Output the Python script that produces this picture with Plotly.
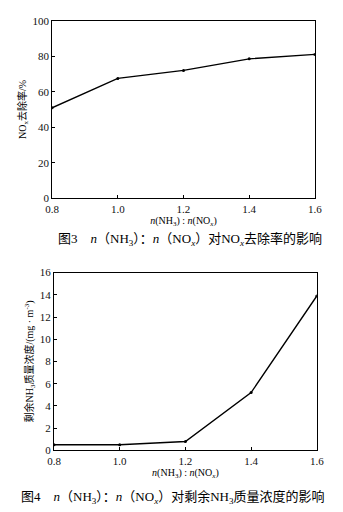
import plotly.graph_objects as go

# Molar ratio n(NH3):n(NOx)
ratio = [0.8, 1.0, 1.2, 1.4, 1.6]
# NOx removal efficiency, %
nox_removal = [51, 67.5, 72, 78.5, 81]
# Residual NH3 mass concentration, mg/m3
nh3_residual = [0.5, 0.5, 0.8, 5.2, 13.9]

W, H = 343, 512
SERIF = "Liberation Serif, Times New Roman, serif"
CJK = "Liberation Serif, Noto Sans CJK SC, serif"


def px_x(x):
    return x / W


def px_y(y):
    return 1 - y / H


fig = go.Figure()

line = dict(color="black", width=1.4)
marker = dict(color="black", size=3)

fig.add_trace(go.Scatter(x=ratio, y=nox_removal, mode="lines+markers",
                         line=line, marker=marker, xaxis="x", yaxis="y",
                         showlegend=False))
fig.add_trace(go.Scatter(x=ratio, y=nh3_residual, mode="lines+markers",
                         line=line, marker=marker, xaxis="x2", yaxis="y2",
                         showlegend=False))

axis_common = dict(showline=True, linecolor="black", linewidth=1, mirror=True,
                   ticks="inside", ticklen=3, tickcolor="black",
                   showgrid=False, zeroline=False,
                   tickfont=dict(family=SERIF, size=11, color="#111"))

xtitle = "<i>n</i>(NH<sub>3</sub>) : <i>n</i>(NO<sub><i>x</i></sub>)"

fig.update_layout(
    width=W, height=H,
    margin=dict(l=0, r=0, t=0, b=0),
    paper_bgcolor="white", plot_bgcolor="white",
    xaxis=dict(domain=[px_x(47), px_x(321)], range=[0.8, 1.6], dtick=0.2,
               tick0=0.8, tickformat=".1f", anchor="y",
               title=dict(text=xtitle, font=dict(family=SERIF, size=10, color="black"),
                          standoff=1),
               **axis_common),
    yaxis=dict(domain=[px_y(197), px_y(15)], range=[0, 100], dtick=20,
               anchor="x",
               title=dict(text="NO<sub>x</sub>去除率/%",
                          font=dict(family=CJK, size=10, color="black"), standoff=3),
               **axis_common),
    xaxis2=dict(domain=[px_x(49), px_x(323)], range=[0.8, 1.6], dtick=0.2,
                tick0=0.8, tickformat=".1f", anchor="y2",
                title=dict(text=xtitle, font=dict(family=SERIF, size=10, color="black"),
                           standoff=1),
                **axis_common),
    yaxis2=dict(domain=[px_y(455), px_y(273)], range=[0, 16], dtick=2,
                anchor="x2",
                title=dict(text="剩余NH<sub>3</sub>质量浓度/(mg · m<sup>-3</sup>)",
                           font=dict(family=CJK, size=10, color="black"), standoff=4),
                **axis_common),
)

captions = [
    ("图3　<i>n</i>（NH<sub>3</sub>）：<i>n</i>（NO<sub><i>x</i></sub>）对NO<sub><i>x</i></sub>去除率的影响",
     191, 239),
    ("图4　<i>n</i>（NH<sub>3</sub>）：<i>n</i>（NO<sub><i>x</i></sub>）对剩余NH<sub>3</sub>质量浓度的影响",
     173, 503),
]
for text, cx, cy in captions:
    fig.add_annotation(text=text, x=px_x(cx), y=px_y(cy), xref="paper", yref="paper",
                       showarrow=False, xanchor="center", yanchor="middle",
                       font=dict(family=CJK, size=13, color="black"))

fig.write_html("out.html")
